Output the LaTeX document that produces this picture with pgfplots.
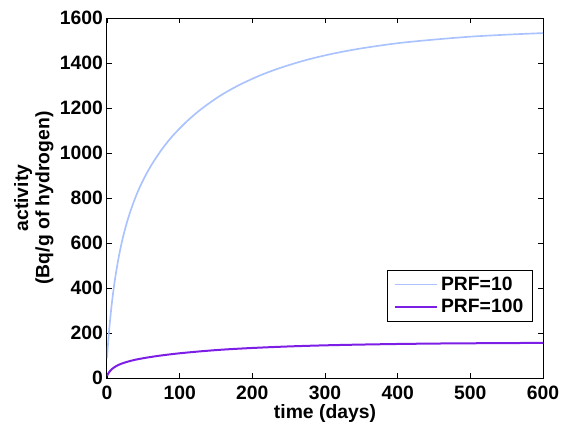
\documentclass[border=0pt]{standalone}
\usepackage{fontspec}
\setmainfont{Liberation Sans}
\usepackage{pgfplots}
\pgfplotsset{compat=1.18}
\definecolor{lblue}{RGB}{170,195,255}
\definecolor{lpurple}{RGB}{125,30,230}
\begin{document}
\begin{tikzpicture}
\begin{axis}[
  scale only axis,
  width=327pt, height=270pt,
  xmin=0, xmax=600, ymin=0, ymax=1600,
  xtick={0,100,...,600}, ytick={0,200,...,1600},
  tick align=inside, major tick length=3.75pt,
  axis line style={line width=0.75pt},
  every tick/.style={black, line width=0.6pt},
  /pgf/number format/assume math mode=true,
  /pgf/number format/1000 sep={},
  tick label style={font=\bfseries\fontsize{14.5}{16}\selectfont},
  xticklabel style={yshift=-2.5pt},
  yticklabel style={xshift=0.5pt},
  xlabel={time (days)},
  ylabel={activity\\(Bq/g of hydrogen)},
  label style={font=\bfseries\fontsize{14.5}{16}\selectfont},
  ylabel style={align=center, yshift=-2pt},
  xlabel style={yshift=3pt},
  legend style={at={(rel axis cs:1,0)}, anchor=south east, xshift=-7.5pt, yshift=42pt,
    draw=black, line width=0.6pt, font=\bfseries\fontsize{14.5}{16}\selectfont,
    inner xsep=5pt, inner ysep=3pt, row sep=1.5pt},
  legend cell align=left,
  legend image code/.code={\draw[#1] (0pt,0pt) -- (32pt,0pt);},
]
\addplot[color=lblue, line width=1.25pt, smooth, tension=0.5] coordinates {
(0,89) (1,134) (2,176) (3,214) (5,282) (7,341) (10,417) (13,480) (17,552)
(22,626) (28,698) (35,767) (43,833) (52,894) (62,951) (75,1014) (90,1075)
(110,1141) (130,1196) (155,1253) (180,1299) (210,1344) (240,1380) (275,1414)
(310,1441) (350,1465) (400,1488) (450,1504) (500,1517) (550,1526) (600,1533)
};
\addlegendentry{PRF=10}
\addplot[color=lpurple, line width=1.5pt, smooth, tension=0.5] coordinates {
(0,9) (1,15.6) (2,21.2) (3,26) (5,33.9) (7,40.2) (10,47.7) (14,55.3) (20,63.8)
(28,72.2) (38,80.5) (50,88) (65,95.8) (80,102.4) (100,109.9) (130,118.9)
(160,126.3) (200,133.5) (250,140.3) (300,145.2) (350,148.6) (400,151.2)
(450,153.1) (500,154.3) (550,155.3) (600,156)
};
\addlegendentry{PRF=100}
\end{axis}
\path (-80.25pt,-39pt) rectangle (342.75pt,283.5pt);
\end{tikzpicture}
\end{document}
